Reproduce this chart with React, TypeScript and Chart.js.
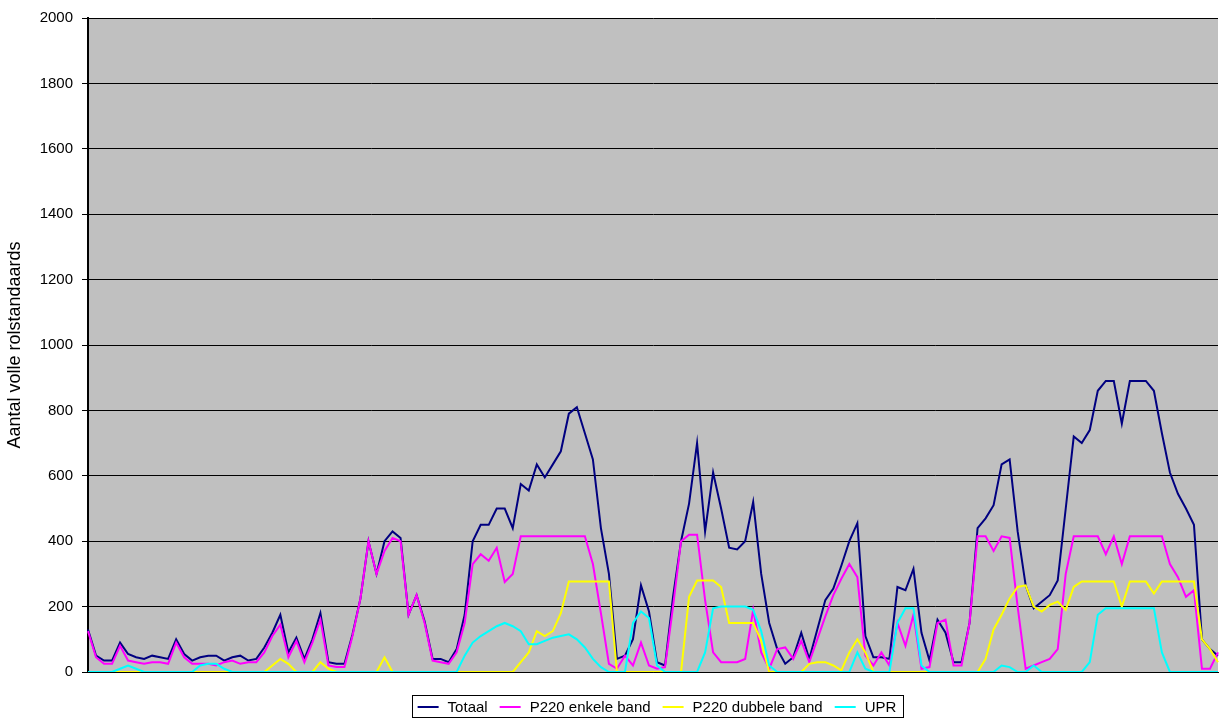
import React, { useEffect, useRef } from "react";
import { Chart, registerables } from "chart.js";

Chart.register(...registerables);

const seriesNames = ["Totaal", "P220 enkele band", "P220 dubbele band", "UPR"];
const seriesColors = ["#000080", "#FF00FF", "#FFFF00", "#00FFFF"];

const yTicks = [0, 200, 400, 600, 800, 1000, 1200, 1400, 1600, 1800, 2000];

const totaal = [
  130, 50, 35, 35, 90, 55, 45, 40, 50, 45, 40, 100, 55, 35, 45, 50, 50, 35, 45, 50,
  35, 40, 75, 120, 175, 60, 105, 40, 100, 180, 30, 25, 25, 115, 225, 400, 300, 400, 430, 410,
  175, 235, 155, 40, 40, 30, 70, 175, 400, 450, 450, 500, 500, 440, 575, 555, 635, 595, 635, 675,
  790, 810, 730, 650, 440, 300, 40, 50, 100, 265, 185, 30, 20, 230, 400, 515, 700, 430, 610, 500,
  380, 375, 400, 520, 300, 150, 70, 25, 45, 120, 40, 130, 220, 255, 325, 400, 455, 110, 45, 45,
  40, 260, 250, 315, 120, 35, 160, 120, 30, 30, 150, 440, 470, 510, 635, 650, 430, 265, 195, 215,
  235, 280, 500, 720, 700, 740, 860, 890, 890, 760, 890, 890, 890, 860, 730, 610, 545, 500, 450, 100,
  70, 50,
];

const p220Enkel = [
  125, 45, 25, 25, 80, 35, 30, 25, 30, 30, 25, 90, 45, 25, 25, 25, 20, 30, 35, 25,
  30, 30, 60, 110, 145, 45, 95, 30, 90, 160, 20, 15, 15, 110, 225, 400, 300, 370, 410, 400,
  175, 235, 150, 35, 30, 25, 60, 150, 330, 360, 340, 380, 275, 300, 415, 415, 415, 415, 415, 415,
  415, 415, 415, 330, 180, 25, 10, 50, 20, 90, 20, 10, 15, 200, 400, 420, 420, 220, 60, 30,
  30, 30, 40, 190, 60, 10, 70, 75, 40, 95, 30, 100, 170, 235, 285, 330, 290, 50, 20, 60,
  20, 150, 80, 175, 10, 15, 150, 160, 20, 20, 150, 415, 415, 370, 415, 410, 200, 10, 20, 30,
  40, 70, 300, 415, 415, 415, 415, 360, 415, 330, 415, 415, 415, 415, 415, 330, 290, 230, 250, 10,
  10, 60,
];

const p220Dubbel = [
  0, 0, 0, 0, 0, 0, 0, 0, 0, 0, 0, 0, 0, 0, 0, 0, 0, 0, 0, 0,
  0, 0, 0, 20, 40, 25, 0, 0, 0, 30, 10, 0, 0, 0, 0, 0, 0, 45, 0, 0,
  0, 0, 0, 0, 0, 0, 0, 0, 0, 0, 0, 0, 0, 0, 30, 60, 125, 110, 125, 180,
  277, 277, 277, 277, 277, 277, 0, 0, 0, 0, 0, 0, 0, 0, 0, 230, 280, 280, 280, 260,
  150, 150, 150, 150, 95, 0, 0, 0, 0, 0, 25, 30, 30, 20, 5, 60, 100, 60, 0, 0,
  0, 0, 0, 0, 0, 0, 0, 0, 0, 0, 0, 0, 40, 130, 175, 225, 260, 265, 200, 185,
  205, 215, 190, 260, 277, 277, 277, 277, 277, 200, 277, 277, 277, 240, 277, 277, 277, 277, 277, 100,
  70, 30,
];

const upr = [
  0, 0, 0, 0, 10, 20, 10, 0, 0, 0, 0, 0, 0, 0, 20, 25, 25, 10, 0, 0,
  0, 0, 0, 0, 0, 0, 0, 0, 0, 0, 0, 0, 0, 0, 0, 0, 0, 0, 0, 0,
  0, 0, 0, 0, 0, 0, 0, 50, 90, 110, 125, 140, 150, 140, 125, 85, 85, 95, 105, 110,
  115, 100, 75, 40, 15, 0, 0, 0, 150, 185, 165, 20, 0, 0, 0, 0, 0, 60, 195, 200,
  200, 200, 200, 190, 125, 20, 0, 0, 0, 0, 0, 0, 0, 0, 0, 0, 60, 10, 0, 0,
  0, 150, 195, 195, 20, 0, 0, 0, 0, 0, 0, 0, 0, 0, 20, 15, 0, 0, 20, 0,
  0, 0, 0, 0, 0, 30, 175, 195, 195, 195, 195, 195, 195, 195, 60, 0, 0, 0, 0, 0,
  0, 0,
];

const timeIndex = totaal.map((_, i) => String(i + 1));

const FONT = '"Liberation Sans", Arial, sans-serif';

const plotBackground = {
  id: "plotBackground",
  beforeDraw(chart: any) {
    const { ctx, chartArea } = chart;
    if (!chartArea) return;
    ctx.save();
    ctx.fillStyle = "#C0C0C0";
    ctx.fillRect(chartArea.left, chartArea.top, chartArea.right - chartArea.left, chartArea.bottom - chartArea.top);
    ctx.restore();
  },
};

const boxedLegend = {
  id: "boxedLegend",
  afterDraw(chart: any) {
    const { ctx, chartArea } = chart;
    if (!chartArea) return;
    ctx.save();
    ctx.font = `15px ${FONT}`;
    const lineW = 21;
    const gapText = 9;
    const gapItem = 12;
    const pad = 6;
    const widths = seriesNames.map((n) => lineW + gapText + ctx.measureText(n).width);
    const total = widths.reduce((a, b) => a + b, 0) + gapItem * (widths.length - 1);
    const center = (chartArea.left + chartArea.right) / 2 + 4;
    let x = center - total / 2;
    const top = chartArea.bottom + 23;
    const h = 22;
    const cy = top + h / 2 + 0.5;
    ctx.strokeStyle = "#000";
    ctx.lineWidth = 1;
    ctx.strokeRect(Math.round(x - pad) + 0.5, Math.round(top) + 0.5, Math.round(total + pad * 2), h);
    ctx.textBaseline = "middle";
    ctx.textAlign = "left";
    seriesNames.forEach((n, i) => {
      ctx.strokeStyle = seriesColors[i];
      ctx.lineWidth = 2;
      ctx.beginPath();
      ctx.moveTo(x, Math.round(cy));
      ctx.lineTo(x + lineW, Math.round(cy));
      ctx.stroke();
      ctx.fillStyle = "#000";
      ctx.fillText(n, x + lineW + gapText, cy + 1);
      x += widths[i] + gapItem;
    });
    ctx.restore();
  },
};

export default function App() {
  const ref = useRef<HTMLCanvasElement | null>(null);

  useEffect(() => {
    document.body.style.margin = "0";
    const canvas = ref.current;
    if (!canvas) return;
    const series = [totaal, p220Enkel, p220Dubbel, upr];
    const chart = new Chart(canvas, {
      type: "line",
      data: {
        labels: timeIndex,
        datasets: series.map((d, i) => ({
          label: seriesNames[i],
          data: d,
          borderColor: seriesColors[i],
          backgroundColor: seriesColors[i],
          borderWidth: 2,
          pointRadius: 0,
          tension: 0,
          fill: false,
          order: 4 - i,
        })),
      },
      options: {
        animation: false,
        responsive: false,
        devicePixelRatio: 1,
        layout: { padding: { left: 0, right: 13, top: 15, bottom: 48 } },
        plugins: {
          legend: { display: false },
          tooltip: { enabled: false },
        },
        scales: {
          x: {
            type: "category",
            offset: false,
            ticks: { display: false },
            grid: { display: false, drawTicks: false },
            border: { display: true, color: "#000", width: 1 },
          },
          y: {
            min: 0,
            max: 2000,
            afterFit: (scale: any) => {
              scale.width = 88;
            },
            afterBuildTicks: (scale: any) => {
              scale.ticks = yTicks.map((v) => ({ value: v }));
            },
            ticks: {
              stepSize: 200,
              padding: 9,
              color: "#000",
              font: { family: FONT, size: 15 },
              callback: (v: any) => String(v),
            },
            grid: {
              color: "#000",
              lineWidth: 1,
              tickLength: 6,
              drawTicks: true,
            },
            border: { display: true, color: "#000", width: 2 },
            title: {
              display: true,
              text: "Aantal volle rolstandaards",
              color: "#000",
              font: { family: FONT, size: 18 },
              padding: { top: 4, bottom: 0 },
            },
          },
        },
      },
      plugins: [plotBackground, boxedLegend],
    });
    return () => chart.destroy();
  }, []);

  return (
    <div style={{ width: 1231, height: 720, background: "#fff" }}>
      <canvas ref={ref} width={1231} height={720} style={{ display: "block" }} />
    </div>
  );
}
